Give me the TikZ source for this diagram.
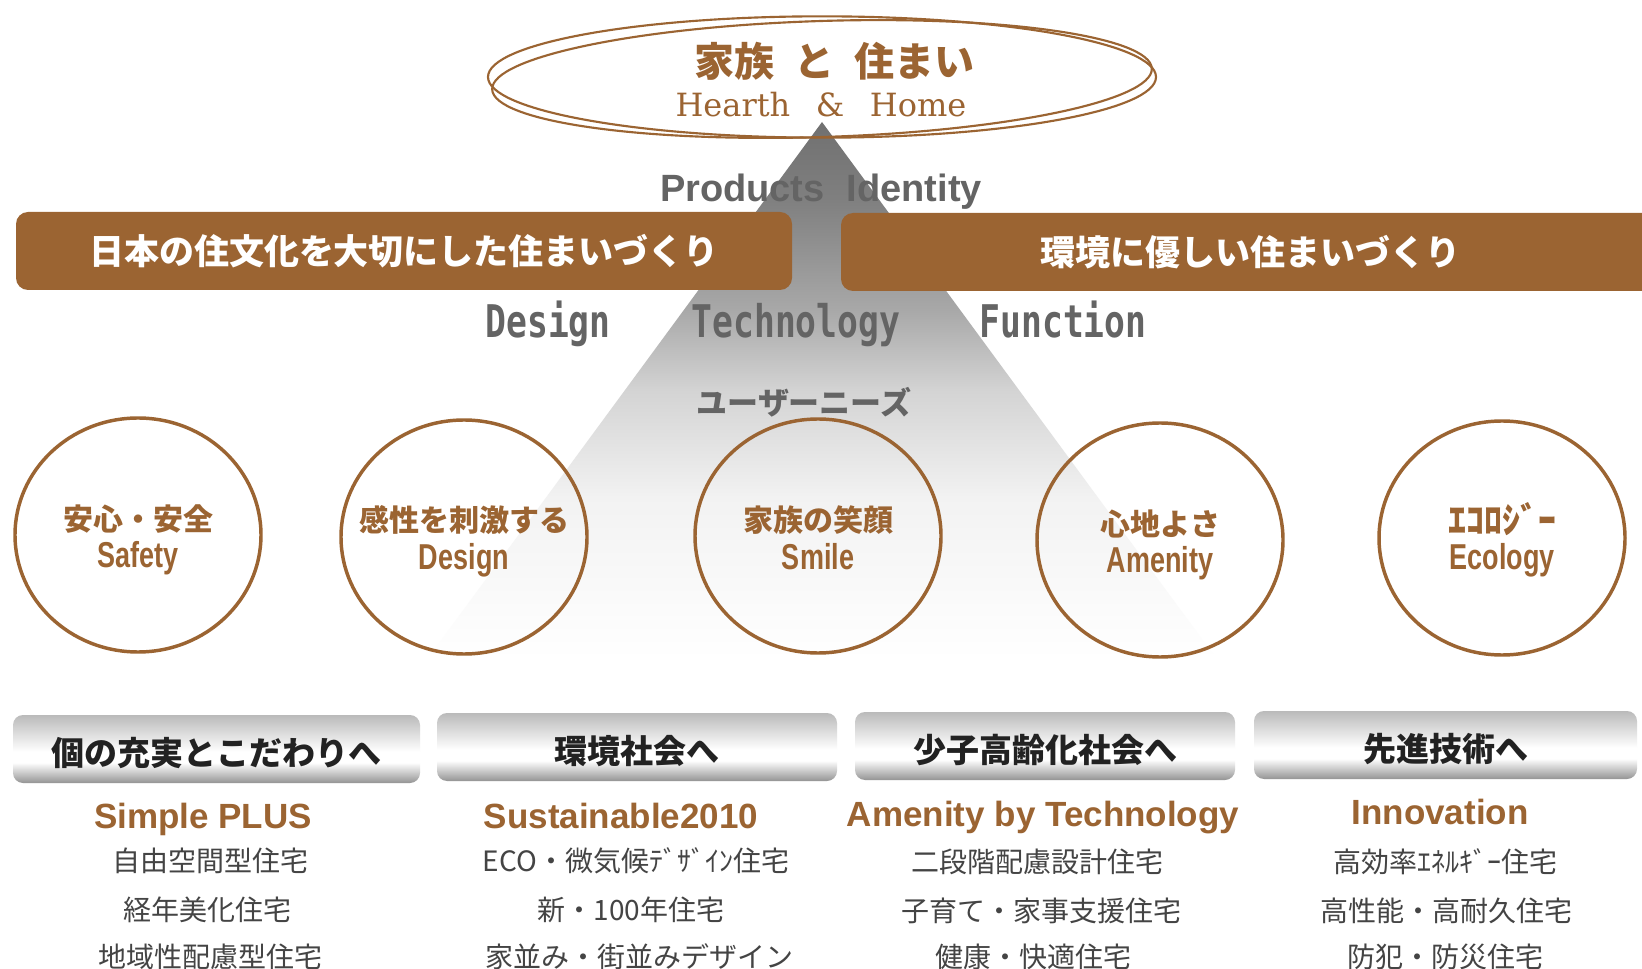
\documentclass[tikz,border=0pt]{standalone}
\usepackage{fontspec}
\usepackage{graphicx}
\setmainfont{Liberation Sans}
\newfontfamily\jp{Noto Sans CJK JP}
\newfontfamily\serf{DejaVu Serif}
\newfontfamily\mon{DejaVu Sans Mono}
\usetikzlibrary{shapes.geometric}
\definecolor{brn}{RGB}{155,100,50}
\definecolor{txg}{RGB}{100,100,100}
\definecolor{lstc}{RGB}{68,68,68}
\definecolor{boxt}{RGB}{34,34,34}
\pgfdeclareverticalshading{tri}{100bp}{color(0bp)=(white); color(25bp)=(white); color(40bp)=(black!5); color(50bp)=(black!17); color(57.5bp)=(black!34); color(67.75bp)=(black!50); color(75bp)=(black!56); color(100bp)=(black!56)}
\pgfdeclareverticalshading{silver}{100bp}{color(0bp)=(black!42); color(25bp)=(black!42); color(40bp)=(white); color(48bp)=(white); color(75bp)=(black!27); color(100bp)=(black!27)}
\begin{document}
\begin{tikzpicture}[x=0.75pt, y=-0.75pt,
  cj/.style={inner sep=0pt, anchor=center},
  band/.style={fill=brn, rounded corners=9pt, minimum height=58.5pt, inner sep=0pt,
    text height=23.1pt, text depth=3.15pt, text=white,
    font=\jp\bfseries\fontsize{26.25pt}{30pt}\selectfont},
  gbox/.style={shading=silver, rounded corners=7.5pt, minimum height=51pt, inner sep=0pt,
    text height=27pt, text depth=2.97pt, text=boxt,
    font=\jp\bfseries\fontsize{24.75pt}{28pt}\selectfont},
  circ/.style={ellipse, draw=brn, line width=2.6pt, minimum width=184.5pt, minimum height=175.5pt, inner sep=0pt},
  ctj/.style={cj, text height=19.8pt, text depth=2.7pt, text=brn, font=\jp\bfseries\fontsize{22.5pt}{26pt}\selectfont},
  cte/.style={anchor=base, inner sep=0pt, text=brn, font=\bfseries\fontsize{27pt}{30pt}\selectfont},
  mono/.style={anchor=base, inner sep=0pt, text=txg, font=\mon\bfseries\fontsize{33.75pt}{38pt}\selectfont},
  sub/.style={anchor=base, inner sep=0pt, text=brn, font=\bfseries\fontsize{26.25pt}{30pt}\selectfont},
  lst/.style={cj, text height=18.48pt, text depth=2.52pt, text=lstc, font=\jp\fontsize{21pt}{24pt}\selectfont}
]
\useasboundingbox (0,0) rectangle (1642,969);
\fill[white] (0,0) rectangle (1642,969);

% triangle
\coordinate (apex) at (822,122);
\coordinate (bl) at (426.6,660);
\coordinate (br) at (1217.4,660);
\shade[shading=tri] (apex) -- (bl) -- (br) -- cycle;

% bands
\node[band, minimum width=582pt] (bandL) at (404,251) {日本の住文化を大切にした住まいづくり};
\node[band, minimum width=614.25pt] (bandR) at (1250.5,252) {環境に優しい住まいづくり};

% top ellipse
\coordinate (ec) at (822,77);
\draw[brn, line width=1.6pt] (ec) ellipse [x radius=250.5pt, y radius=45.5pt];
\draw[brn, line width=1.6pt, rotate around={1.8:(822,79)}] (822,79) ellipse [x radius=247.5pt, y radius=43.5pt];
\node[cj, text height=26.4pt, text depth=3.6pt, text=brn, font=\jp\bfseries\fontsize{30pt}{34pt}\selectfont] (title) at (834,61) {家族\hspace{0.5em}と\hspace{0.5em}住まい};
\node[anchor=base, inner sep=0pt, text=brn, font=\serf\fontsize{24pt}{28pt}\selectfont] (hh) at (821,117) {Hearth\hspace{0.8em}\&\hspace{0.8em}Home};

% labels
\node[anchor=base, inner sep=0pt, text=txg, font=\bfseries\fontsize{28.5pt}{32pt}\selectfont] (pi) at (821,202) {Products\hspace{0.58em}Identity};
\node[mono] (lD) at (548,338) {\scalebox{0.77}[1]{Design}};
\node[mono] (lT) at (796,338) {\scalebox{0.77}[1]{Technology}};
\node[mono] (lF) at (1063,338) {\scalebox{0.77}[1]{Function}};
\node[cj, text height=20.46pt, text depth=2.79pt, text=txg, font=\jp\bfseries\fontsize{23.25pt}{27pt}\selectfont] (un) at (804,403) {ユーザーニーズ};

% circles
\node[circ] (c1) at (138,535) {};
\node[circ] (c2) at (464,537) {};
\node[circ] (c3) at (818,536) {};
\node[circ] (c4) at (1160,540) {};
\node[circ] (c5) at (1502,538) {};
\node[ctj] (j1) at (138,519) {安心・安全};
\node[cte] (e1) at (138,567) {\scalebox{0.75}[1]{Safety}};
\node[ctj] (j2) at (464,520) {感性を刺激する};
\node[cte] (e2) at (464,569) {\scalebox{0.75}[1]{Design}};
\node[ctj] (j3) at (818,520) {家族の笑顔};
\node[cte] (e3) at (818,569) {\scalebox{0.75}[1]{Smile}};
\node[ctj] (j4) at (1160,524) {心地よさ};
\node[cte] (e4) at (1160,572) {\scalebox{0.75}[1]{Amenity}};
\node[cj, text height=23.8pt, text depth=3.2pt, text=brn, font=\jp\bfseries\fontsize{27pt}{30pt}\selectfont] (j5) at (1502,520) {ｴｺﾛｼﾞｰ};
\node[cte] (e5) at (1502,570) {\scalebox{0.75}[1]{Ecology}};

% gray boxes
\node[gbox, minimum width=305.25pt] (b1) at (216.5,749) {個の充実とこだわりへ};
\node[gbox, minimum width=300pt] (b2) at (637,747) {環境社会へ};
\node[gbox, minimum width=285pt] (b3) at (1045,746) {少子高齢化社会へ};
\node[gbox, minimum width=287.25pt] (b4) at (1445.5,745) {先進技術へ};

% subtitles
\node[sub] (s1) at (203,828) {Simple PLUS};
\node[sub] (s2) at (621,828) {Sustainable2010};
\node[sub] (s3) at (1043,826) {Amenity by Technology};
\node[sub] (s4) at (1440,824) {Innovation};

% lists
\node[lst] (l11) at (210,861) {自由空間型住宅};
\node[lst] (l12) at (207,910) {経年美化住宅};
\node[lst] (l13) at (210,957) {地域性配慮型住宅};
\node[lst] (l21) at (636,861) {ECO・微気候ﾃﾞｻﾞｲﾝ住宅};
\node[lst] (l22) at (631,910) {新・100年住宅};
\node[lst] (l23) at (639,957) {家並み・街並みデザイン};
\node[lst] (l31) at (1037,862) {二段階配慮設計住宅};
\node[lst] (l32) at (1041,911) {子育て・家事支援住宅};
\node[lst] (l33) at (1033,957) {健康・快適住宅};
\node[lst] (l41) at (1445,862) {高効率ｴﾈﾙｷﾞｰ住宅};
\node[lst] (l42) at (1446,911) {高性能・高耐久住宅};
\node[lst] (l43) at (1445,957) {防犯・防災住宅};
\end{tikzpicture}
\end{document}
